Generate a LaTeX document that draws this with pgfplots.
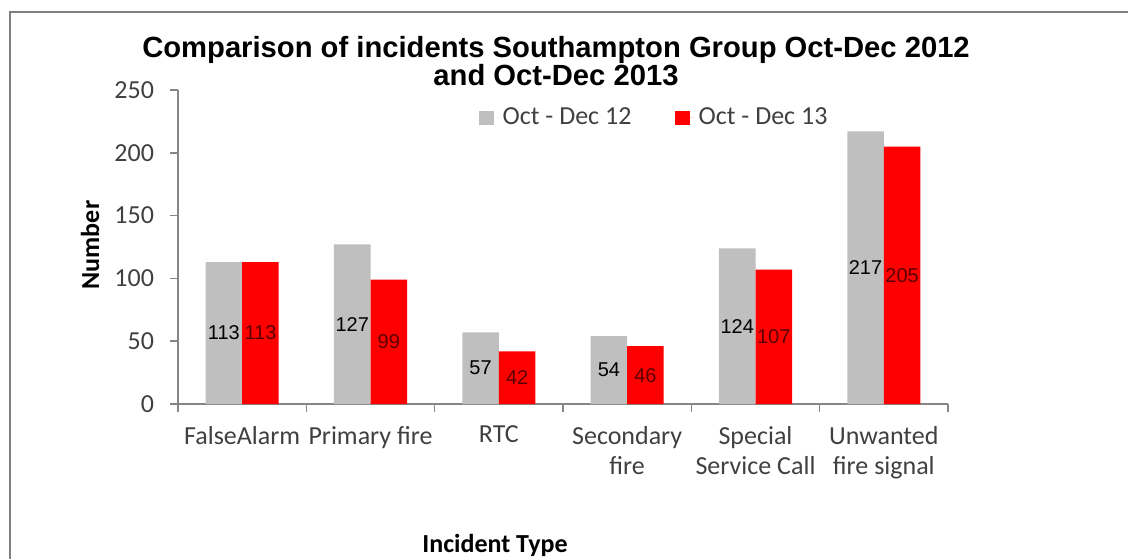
\documentclass[border=0pt]{standalone}
\usepackage{fontspec}
\setmainfont{Carlito}
\newfontfamily\arial{Liberation Sans}
\usepackage{pgfplots}
\pgfplotsset{compat=1.18}

\definecolor{barGray}{RGB}{191,191,191}
\definecolor{barRed}{RGB}{255,0,0}
\definecolor{axisGray}{RGB}{134,134,134}
\definecolor{txtGray}{RGB}{64,64,64}
\definecolor{lblRed}{RGB}{90,0,0}

\begin{document}
\begin{tikzpicture}
% 1 px of the reference = 0.5pt, axis lower left at (0,0)
\useasboundingbox (-89pt,-77pt) rectangle (475pt,202pt);
\draw[color=gray, line width=1.2pt] (-84pt,-78pt) -- (-84pt,196pt) -- (476pt,196pt);

\node[align=center, font=\arial\bfseries\fontsize{14.6}{14}\selectfont] at (189pt,171.5pt)
  {Comparison of incidents Southampton Group Oct-Dec 2012\\and Oct-Dec 2013};
\node[rotate=90, font=\bfseries\fontsize{13}{15}\selectfont] at (-44pt,79.5pt) {Number};
\node[font=\bfseries\fontsize{13}{15}\selectfont] at (158.5pt,-70.5pt) {Incident Type};

\begin{axis}[
    at={(0,0)}, anchor=south west,
    scale only axis,
    width=385pt, height=157pt,
    ybar=0pt, bar width=0.285,
    xmin=-0.5, xmax=5.5,
    ymin=0, ymax=250,
    ytick={0,50,...,250},
    xtick={-0.5,0.5,...,5.5},
    xticklabels={},
    extra x ticks={0,1,2,3,4,5},
    extra x tick labels={FalseAlarm,Primary fire,RTC,{Secondary\\fire},{Special\\Service Call},{Unwanted\\fire signal}},
    extra x tick style={major tick length=0pt,
        xticklabel style={align=center, anchor=north, yshift=-7.5pt,
            font=\fontsize{13}{15}\selectfont, text=txtGray}},
    axis x line*=bottom, axis y line*=left,
    axis line style={draw=axisGray, line width=0.8pt, -},
    tick style={draw=axisGray, line width=0.8pt},
    tick align=outside, major tick length=4pt,
    yticklabel style={font=\fontsize{13}{15}\selectfont, text=txtGray, xshift=-4.5pt},
    /pgf/number format/assume math mode=true,
    legend style={at={(rel axis cs:0.391,0.911)}, anchor=west, draw=none, fill=none,
        inner sep=0pt, font=\fontsize{13}{15}\selectfont, text=txtGray,
        legend columns=2,
        /tikz/every even column/.append style={column sep=20pt}},
    legend image code/.code={\fill[#1] (0pt,-3.6pt) rectangle (7.4pt,3.6pt);
        \path (0pt,0pt) -- (9.6pt,0pt);},
    nodes near coords,
    visualization depends on={rawy \as \rawy},
    every node near coord/.append style={anchor=center, yshift=-\rawy*0.314pt,
        font=\arial\fontsize{10}{12}\selectfont},
]
\addplot[fill=barGray, draw=none,
    every node near coord/.append style={text=black}]
    coordinates {(0,113) (1,127) (2,57) (3,54) (4,124) (5,217)};
\addplot[fill=barRed, draw=none,
    every node near coord/.append style={text=lblRed}]
    coordinates {(0,113) (1,99) (2,42) (3,46) (4,107) (5,205)};
\legend{Oct - Dec 12, Oct - Dec 13}
\end{axis}
\end{tikzpicture}
\end{document}
